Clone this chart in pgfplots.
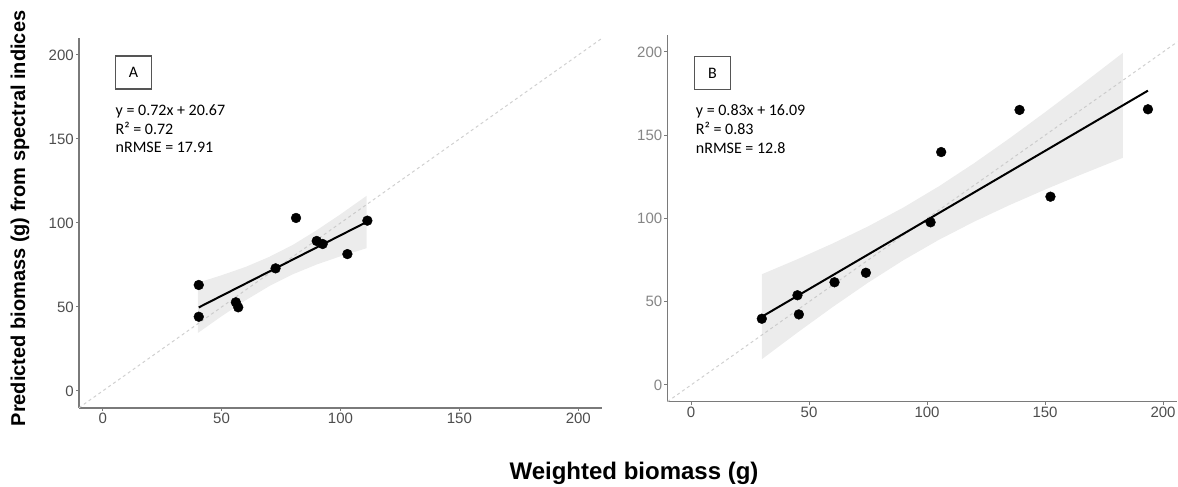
\documentclass[border=0pt]{standalone}
\usepackage{pgfplots}
\pgfplotsset{compat=1.18}
\usepackage{pgfplotstable}
\usepackage{fontspec}
\setmainfont{Liberation Sans}
\newfontfamily\calfont{Carlito}
\definecolor{axisc}{HTML}{7A7A7A}
\definecolor{tickc}{HTML}{4D4D4D}
\definecolor{tickcb}{HTML}{858585}
\definecolor{bandc}{HTML}{C1C1C1}
\definecolor{diagc}{HTML}{D0D0D0}
\definecolor{boxc}{HTML}{555555}

\pgfplotstableread{
x y
40.4 63.1
40.4 44.2
56.0 52.8
57.0 49.8
72.7 73.0
81.3 103.0
90.0 89.3
92.5 87.5
102.9 81.5
111.3 101.4
}\ptsA

\pgfplotstableread{
x y
30.0 39.8
45.1 53.9
45.7 42.4
60.8 61.7
74.1 67.4
101.5 97.7
106.0 139.9
139.2 165.2
152.3 113.1
193.6 165.6
}\ptsB

\begin{document}
\begin{tikzpicture}[x=1pt,y=1pt]
\path[use as bounding box] (0,0) rectangle (1178,487);
\pgfplotsset{
 panel/.style={scale only axis, anchor=south west, xmin=-10, ymin=-10, ymax=210,
  axis x line*=bottom, axis y line*=left,
  axis line style={axisc, line width=1.5pt},
  xtick={0,50,...,200}, ytick={0,50,...,200},
  tick style={axisc, line width=1pt}, tick align=outside, major tick length=3pt,
  tick label style={font=\fontsize{15}{15}\selectfont, text=tickc, inner sep=2pt},
  /pgf/number format/assume math mode=true,
  clip=true}
}
% Panel A
\begin{axis}[panel, at={(78.9pt,79.2pt)}, width=523.2pt, height=369.6pt, xmax=210]
\addplot[diagc, line width=1pt, dash pattern=on 3pt off 3pt] coordinates {(-10,-10) (210,210)};
\addplot[only marks, mark=*, mark size=4.9pt, black] table {\ptsA};
\addplot[draw=none, fill=bandc, fill opacity=0.31] coordinates {
(40,64.4) (50,68.9) (60,73.8) (70,79.8) (80,87.0) (90,95.7) (100,105.2) (111,116.2)
(111,85.0) (100,80.2) (90,75.3) (80,69.5) (70,62.4) (60,53.9) (50,44.5) (40,34.5)} -- cycle;
\addplot[black, line width=2pt] coordinates {(40.4,49.76) (111.3,100.81)};
\node[draw=boxc, line width=1.5pt, fill=white, minimum width=36pt, minimum height=33pt, font=\calfont\fontsize{16}{16}\selectfont, text=black] at (axis cs:13.0,189.5) {A};
\node[anchor=base west, inner sep=0pt, font=\calfont\fontsize{16}{16}\selectfont, text=black] at (axis cs:5.4,163.9) {y = 0.72x + 20.67};
\node[anchor=base west, inner sep=0pt, font=\calfont\fontsize{16}{16}\selectfont, text=black] at (axis cs:5.4,152.8) {R² = 0.72};
\node[anchor=base west, inner sep=0pt, font=\calfont\fontsize{16}{16}\selectfont, text=black] at (axis cs:5.4,141.8) {nRMSE = 17.91};
\end{axis}
% Panel B
\begin{axis}[panel, at={(667.4pt,85.35pt)}, width=509.8pt, height=366.3pt, xmax=206,
  yticklabel style={text=tickcb}]
\addplot[diagc, line width=1pt, dash pattern=on 3pt off 3pt] coordinates {(-10,-10) (210,210)};
\addplot[only marks, mark=*, mark size=4.9pt, black] table {\ptsB};
\addplot[draw=none, fill=bandc, fill opacity=0.31] coordinates {
(30,66.5) (45,75.49) (60,84.98) (75,95.24) (90,106.61) (105,119.3) (120,133.26) (135,148.21) (150,163.82) (165,179.87) (183,199.49)
(183,136.47) (165,126.21) (150,117.36) (135,108.07) (120,98.12) (105,87.18) (90,74.97) (75,61.44) (60,46.8) (45,31.39) (30,15.48)} -- cycle;
\addplot[black, line width=2pt] coordinates {(30.0,40.99) (193.6,176.78)};
\node[draw=boxc, line width=1.5pt, fill=white, minimum width=36pt, minimum height=33pt, font=\calfont\fontsize{16}{16}\selectfont, text=black] at (axis cs:9.1,187.4) {B};
\node[anchor=base west, inner sep=0pt, font=\calfont\fontsize{16}{16}\selectfont, text=black] at (axis cs:2.0,161.7) {y = 0.83x + 16.09};
\node[anchor=base west, inner sep=0pt, font=\calfont\fontsize{16}{16}\selectfont, text=black] at (axis cs:2.0,150.6) {R² = 0.83};
\node[anchor=base west, inner sep=0pt, font=\calfont\fontsize{16}{16}\selectfont, text=black] at (axis cs:2.0,139.2) {nRMSE = 12.8};
\end{axis}
\node[rotate=90, anchor=base, inner sep=0pt, font=\bfseries\fontsize{20}{20}\selectfont] at (25,268.5) {Predicted biomass (g) from spectral indices};
\node[anchor=base, inner sep=0pt, font=\bfseries\fontsize{24}{24}\selectfont] at (634,7.7) {Weighted biomass (g)};
\end{tikzpicture}
\end{document}
